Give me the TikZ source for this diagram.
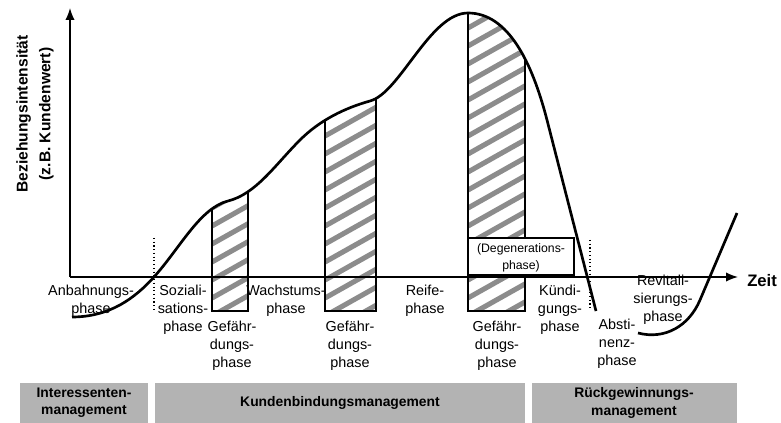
\documentclass[tikz,border=0pt]{standalone}
\usepackage{fontspec}
\setmainfont{Liberation Sans}
\usetikzlibrary{arrows.meta}
\definecolor{streifengrau}{RGB}{140,140,140}
\definecolor{kastengrau}{RGB}{179,179,179}
% Verlauf der Beziehungsintensitaet
\newcommand{\lebenszyklus}{(72,317) .. controls (110,317) and (135,298) .. (154,277) .. controls (180,248) and (200,208) .. (228,201) .. controls (256,194) and (275,165) .. (300,140) .. controls (320,120) and (345,108) .. (370,101) .. controls (400,93) and (430,13) .. (468,13) .. controls (508,13) and (532,62) .. (547,120) -- (596,311)}
\tikzset{
  kurve/.style={line width=2pt},
  achse/.style={line width=1.1pt,-{Latex[length=9pt,width=7pt]}},
  schraffur/.style={line width=3.8pt,color=streifengrau},
  rahmen/.style={line width=0.9pt},
  trenner/.style={line width=0.8pt,dotted},
  phasentext/.style={align=center,inner sep=0pt,font=\fontsize{10.8}{13.5}\selectfont},
  mgmtkasten/.style={fill=kastengrau,draw=none},
  mgmttext/.style={align=center,inner sep=0pt,font=\fontsize{10.4}{13}\selectfont\bfseries}
}
\begin{document}
\begin{tikzpicture}[x=0.75pt,y=0.75pt,yscale=-1]
\useasboundingbox (0,0) rectangle (781,423);

%Shape: Gefaehrdungsphasen (schraffiert)
\foreach \xa/\xb in {212/248,325/376,468/525}{
  \begin{scope}
    \clip \lebenszyklus -- (596,423) -- (72,423) -- cycle;
    \begin{scope}
      \clip (\xa,311) rectangle (\xb,0);
      \foreach \k in {0,...,21} \draw[schraffur] (\xa,10+\k*18) -- ++(80,-45);
    \end{scope}
    \draw[rahmen] (\xa,0) -- (\xa,311) -- (\xb,311) -- (\xb,0);
  \end{scope}
}

%Shape: Degenerationsphase
\draw[rahmen,fill=white] (468,238) rectangle (574,275);
\node[phasentext,font=\fontsize{9.2}{13}\selectfont] (degen) at (521,258) {(Degenerations-\\phase)};

%Shape: Achsen
\coordinate (ursprung) at (70,277);
\coordinate (yspitze) at (70,8);
\coordinate (xspitze) at (738,277);
\draw[achse] (ursprung) -- (yspitze);
\draw[achse] (ursprung) -- (xspitze);

%Shape: Kurven
\draw[kurve] \lebenszyklus;
\draw[kurve] (638,333) .. controls (665,340) and (689,326) .. (700,300) -- (737,213);

%Shape: gepunktete Trennlinien
\draw[trenner] (154,238) -- (154,310);
\draw[trenner] (590,240) -- (590,310);

%Text: Achsenbeschriftung
\node[rotate=90,align=center,inner sep=0pt,font=\fontsize{11.7}{17}\selectfont\bfseries] (yachse) at (35,114) {Beziehungsintensität\\(z.B. Kundenwert)};
\node[anchor=west,inner sep=0pt,font=\fontsize{12.5}{15}\selectfont\bfseries] (zeit) at (747,281) {Zeit};

%Text: Phasen
\node[phasentext] (anbahnung) at (91,301) {Anbahnungs-\\phase};
\node[phasentext] (sozial) at (183,310) {Soziali-\\sations-\\phase};
\node[phasentext] (gefahr1) at (232,346) {Gefähr-\\dungs-\\phase};
\node[phasentext] (wachstum) at (286,301) {Wachstums-\\phase};
\node[phasentext] (gefahr2) at (350,346) {Gefähr-\\dungs-\\phase};
\node[phasentext] (reife) at (425,301) {Reife-\\phase};
\node[phasentext] (gefahr3) at (497,346) {Gefähr-\\dungs-\\phase};
\node[phasentext] (kuendigung) at (560,310) {Kündi-\\gungs-\\phase};
\node[phasentext] (abstinenz) at (617,344) {Absti-\\nenz-\\phase};
\node[phasentext] (revital) at (663,300) {Revitali-\\sierungs-\\phase};

%Shape: Managementbereiche
\draw[mgmtkasten] (20,383) rectangle (148,423);
\draw[mgmtkasten] (155,383) rectangle (525,423);
\draw[mgmtkasten] (532,383) rectangle (737,423);
\node[mgmttext] (interessent) at (84,403) {Interessenten-\\management};
\node[mgmttext] (bindung) at (340,403) {Kundenbindungsmanagement};
\node[mgmttext] (rueckgewinn) at (634,403) {Rückgewinnungs-\\management};

\end{tikzpicture}
\end{document}
